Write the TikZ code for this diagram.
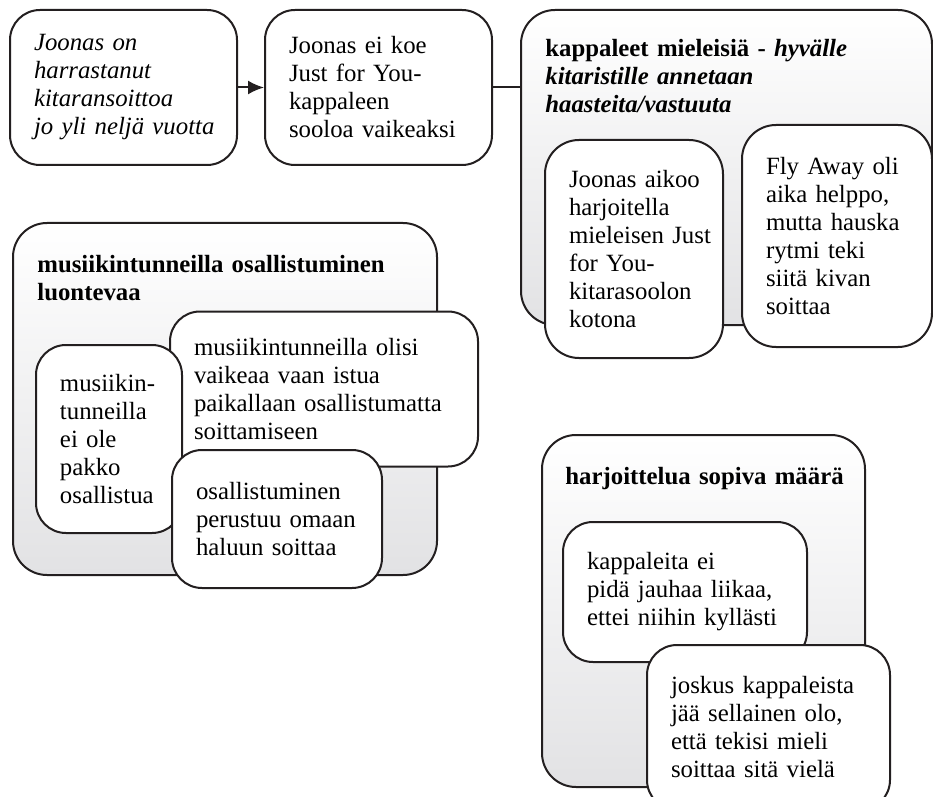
\documentclass[tikz,border=0pt]{standalone}
\usepackage{fontspec}
\setmainfont{Liberation Serif}
\usetikzlibrary{arrows.meta}

\definecolor{linec}{HTML}{231F20}
\definecolor{shadec}{HTML}{E2E2E4}

\newcommand{\bodyfont}{\fontsize{12.4pt}{14pt}\selectfont}

\tikzset{
  card/.style={draw=linec, line width=1pt, rounded corners=15pt, fill=white,
    align=left, inner xsep=12pt, inner ysep=0pt, font=\bodyfont},
  group/.style={draw=linec, line width=1pt, rounded corners=17pt,
    top color=white, bottom color=shadec, inner sep=0pt},
  heading/.style={align=left, text width=200pt, inner sep=0pt,
    font=\bodyfont\bfseries, anchor=base west},
  link/.style={draw=linec, line width=1pt},
}

\begin{document}
\begin{tikzpicture}[x=0.5pt, y=-0.5pt]
\useasboundingbox (0,0) rectangle (933,797);

% top row: chain of two statements
\node[card, minimum width=113.5pt, minimum height=77.5pt, text width=89.5pt,
  font=\bodyfont\itshape] (start) at (123.5,87.5)
  {Joonas on\\ harrastanut\\ kitaransoittoa\\ jo~yli~neljä~vuotta};
\node[card, minimum width=113.5pt, minimum height=77.5pt, text width=89.5pt] (solo) at (378.5,87.5)
  {Joonas ei koe\\ Just for You-\\ kappaleen\\ sooloa~vaikeaksi};

% group: kappaleet mieleisiä
\node[group, minimum width=205.5pt, minimum height=157.5pt] (songs) at (726.5,167.5) {};
\node[heading] (songsT) at (545,57)
  {kappaleet mieleisiä - \textit{hyvälle}\\ \textit{kitaristille annetaan}\\ \textit{haasteita/vastuuta}};
\node[card, minimum width=89pt, minimum height=109pt, text width=65pt, rounded corners=17pt] (practice) at (634,249)
  {Joonas~aikoo\\ harjoitella\\ mieleisen~Just\\ for You-\\ kitarasoolon\\ kotona};
\node[card, minimum width=95pt, minimum height=111pt, text width=71pt, rounded corners=17pt] (flyaway) at (837,236)
  {Fly~Away~oli\\ aika~helppo,\\ mutta~hauska\\ rytmi teki\\ siitä kivan\\ soittaa};

% group: musiikintunneilla osallistuminen luontevaa
\node[group, minimum width=212pt, minimum height=176pt] (lessons) at (225,399) {};
\node[heading] (lessonsT) at (37,272)
  {musiikintunneilla osallistuminen\\ luontevaa};
\node[card, minimum width=154pt, minimum height=77.5pt, text width=130pt] (sit) at (324,389)
  {musiikintunneilla olisi\\ vaikeaa vaan istua\\ paikallaan~osallistumatta\\ soittamiseen};
\node[card, minimum width=73pt, minimum height=94pt, text width=49pt] (nomust) at (109,439)
  {musiikin-\\ tunneilla\\ ei ole\\ pakko\\ osallistua};
\node[card, minimum width=105pt, minimum height=69pt, text width=81pt] (ownwill) at (277,519)
  {osallistuminen\\ perustuu~omaan\\ haluun~soittaa};

% group: harjoittelua sopiva määrä
\node[group, minimum width=161.5pt, minimum height=176pt] (amount) at (703.5,611) {};
\node[heading] (amountT) at (565,484) {harjoittelua sopiva määrä};
\node[card, minimum width=122pt, minimum height=70pt, text width=98pt] (grind) at (685,592)
  {kappaleita ei\\ pidä~jauhaa~liikaa,\\ ettei~niihin~kyllästi};
\node[card, minimum width=121.5pt, minimum height=82.5pt, text width=97.5pt] (more) at (768.5,727.5)
  {joskus~kappaleista\\ jää~sellainen~olo,\\ että~tekisi~mieli\\ soittaa~sitä~vielä};

% connectors
\draw[link, -{Latex[length=8pt, width=7pt]}] (start) -- (solo);
\draw[link] (solo.east) -- (solo.east -| songs.west);
\end{tikzpicture}
\end{document}
